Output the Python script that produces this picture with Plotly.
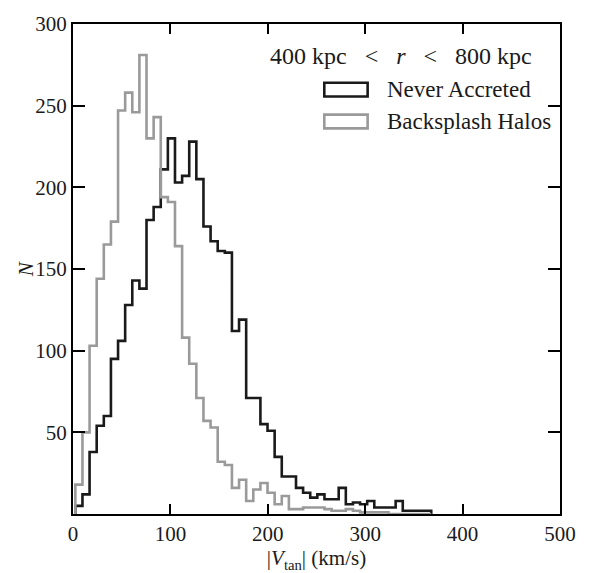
import numpy as np
import plotly.graph_objects as go

# ---- data ----
bin_lo = 2.4        # km/s, left edge of first bin
bin_hi = 367.8      # km/s, right edge of last bin
n_bins = 50

never_accreted = [5, 12, 38, 54, 60, 95, 106, 128, 143, 138,
                  180, 188, 211, 230, 203, 207, 228, 205, 176, 167,
                  161, 160, 112, 119, 71, 71, 55, 51, 35, 23,
                  23, 16, 13, 10, 12, 9, 9, 16, 6, 7,
                  6, 8, 4, 4, 4, 8, 2, 2, 2, 2]

backsplash = [18, 50, 103, 144, 165, 179, 247, 258, 246, 281,
              230, 243, 194, 191, 164, 108, 92, 71, 57, 53,
              32, 30, 16, 21, 8, 15, 19, 13, 6, 11,
              3, 3, 4, 4, 4, 3, 2, 2, 3, 2,
              1, 1, 1, 1, 0, 0, 0, 0, 0, 0]

series_names = ["Never Accreted", "Backsplash Halos"]
x_ticks = [0, 100, 200, 300, 400, 500]
y_ticks = [50, 100, 150, 200, 250, 300]
panel_label = "400 kpc &#8194;&lt;&#8194; <i>r</i> &#8194;&lt;&#8194; 800 kpc"
x_title = "|<i>V</i><sub>tan</sub>| (km/s)"
y_title = "<i>N</i>"

edges = np.linspace(bin_lo, bin_hi, n_bins + 1)


def step_xy(counts):
    c = np.asarray(counts, dtype=float)
    xs = np.concatenate([[edges[0]], edges[:-1], [edges[-1], edges[-1]]])
    ys = np.concatenate([[0.0], c, [c[-1], 0.0]])
    return xs, ys


BLACK = "#1a1a1a"
GREY = "#9a9a9a"
TXT = "#1a1a1a"
FONT = "Liberation Serif"

fig = go.Figure()
for counts, col, name in [(never_accreted, BLACK, series_names[0]),
                          (backsplash, GREY, series_names[1])]:
    xs, ys = step_xy(counts)
    fig.add_trace(go.Scatter(x=xs, y=ys, mode="lines", line_shape="hv",
                             line=dict(color=col, width=2.6),
                             name=name, showlegend=False, hoverinfo="skip"))

axis_common = dict(showline=True, linecolor="black", linewidth=2,
                   mirror="ticks", ticks="inside", tickcolor="black",
                   tickwidth=1.5, showgrid=False, zeroline=False,
                   tickfont=dict(family=FONT, size=21, color=TXT))

fig.update_xaxes(range=[0, 500], tickvals=x_ticks, ticklen=10,
                 title=dict(text=x_title,
                            font=dict(family=FONT, size=21, color=TXT),
                            standoff=0),
                 **axis_common)
fig.update_yaxes(range=[0, 300], tickvals=y_ticks, ticklen=12,
                 **axis_common)

# y-axis label placed next to the tick labels
fig.add_annotation(xref="paper", yref="paper", x=-0.096, y=0.5,
                   text=y_title, showarrow=False, textangle=-90,
                   xanchor="center", yanchor="middle",
                   font=dict(family=FONT, size=21, color=TXT))

# legend drawn as patches + text
legend_boxes = [(0.880, 0.852, BLACK), (0.815, 0.787, GREY)]
for (y1, y0, col), name in zip(legend_boxes, series_names):
    fig.add_shape(type="rect", xref="paper", yref="paper",
                  x0=0.516, x1=0.605, y0=y0, y1=y1,
                  line=dict(color=col, width=2.6), fillcolor="rgba(0,0,0,0)")
    fig.add_annotation(xref="paper", yref="paper", x=0.640, y=(y0 + y1) / 2,
                       text=name, showarrow=False, xanchor="left",
                       yanchor="middle",
                       font=dict(family=FONT, size=23, color=TXT))

fig.add_annotation(xref="paper", yref="paper", x=0.673, y=0.9356,
                   text=panel_label, showarrow=False, xanchor="center",
                   yanchor="middle",
                   font=dict(family=FONT, size=24, color=TXT))

fig.update_layout(width=594, height=573,
                  margin=dict(l=73, r=34, t=19, b=46),
                  plot_bgcolor="white", paper_bgcolor="white")

fig.write_html("out.html")
